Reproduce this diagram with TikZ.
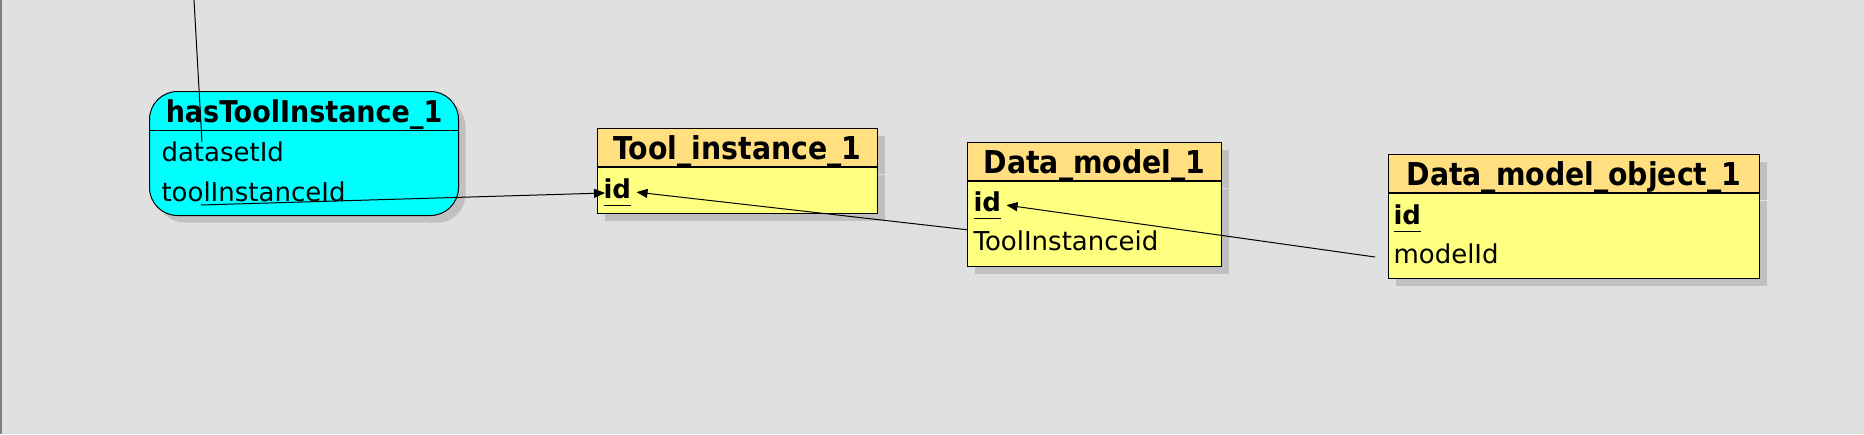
\documentclass[tikz,border=0pt]{standalone}
\usepackage{fontspec}
\setmainfont{DejaVu Sans}
\newfontfamily\condbold{DejaVuSansCondensed-Bold.ttf}
\usepackage{tikz}
\usetikzlibrary{positioning,arrows.meta,shadows}
\definecolor{bgfill}{HTML}{E0E0E0}
\definecolor{hdrfill}{HTML}{FFDF80}
\definecolor{tblfill}{HTML}{FFFF80}
\definecolor{relfill}{HTML}{00FFFF}
\definecolor{shadowgray}{HTML}{C0C0C0}
\definecolor{framegray}{HTML}{808080}
\newcommand{\pk}[1]{\setbox0\hbox{\bfseries #1}\rlap{\rule[-8pt]{\wd0}{1pt}}\box0}
\tikzset{
  boxshadow/.style={general shadow={fill=shadowgray,shadow xshift=7pt,shadow yshift=-7pt}},
  title/.style={anchor=north west,inner sep=0pt,minimum height=38pt,text height=24pt,text depth=0pt,font=\condbold\fontsize{31.5}{32}\selectfont},
  hdr/.style={title,draw,fill=hdrfill,boxshadow},
  tbl/.style={draw,fill=tblfill,inner sep=0pt,boxshadow},
  field/.style={anchor=base west,inner sep=0pt,font=\fontsize{26}{27}\selectfont},
}
\begin{document}
\begin{tikzpicture}[x=1pt,y=-1pt,line width=1pt,>={Triangle[length=11pt,width=9pt]}]
\useasboundingbox (0,0) rectangle (1864,434);
\fill[bgfill] (0,0) rectangle (1864,434);
\draw[framegray,line width=2pt] (1,0) -- (1,434);
% hasToolInstance_1
\node[draw,fill=relfill,rounded corners=28pt,anchor=north west,minimum width=309pt,minimum height=124pt,boxshadow] (hti) at (149,91) {};
\node[title,minimum width=309pt,font=\condbold\fontsize{30}{31}\selectfont] (htihdr) at (149,91) {hasToolInstance\_1};
\draw (htihdr.south west) -- (htihdr.south east);
\node[field] (dsid) at ([shift={(12pt,-31pt)}]htihdr.south west) {datasetId};
\node[field] (htitid) at ([shift={(12pt,-71pt)}]htihdr.south west) {toolInstanceId};
% Tool_instance_1
\node[hdr,minimum width=280pt] (ti) at (597,128) {Tool\_instance\_1};
\node[tbl,below=0pt of ti,minimum width=280pt,minimum height=46pt] (tibody) {};
\node[field] (tiid) at ([shift={(6pt,-31pt)}]ti.south west) {\pk{id}};
% Data_model_1
\node[hdr,minimum width=254pt] (dm) at (967,142) {Data\_model\_1};
\node[tbl,below=0pt of dm,minimum width=254pt,minimum height=85pt] (dmbody) {};
\node[field] (dmid) at ([shift={(6pt,-30pt)}]dm.south west) {\pk{id}};
\node[field] (dmtid) at ([shift={(6pt,-69pt)}]dm.south west) {ToolInstanceid};
% Data_model_object_1
\node[hdr,minimum width=371pt] (dmo) at (1388,154) {Data\_model\_object\_1};
\node[tbl,below=0pt of dmo,minimum width=371pt,minimum height=85pt] (dmobody) {};
\node[field] (dmoid) at ([shift={(5pt,-31pt)}]dmo.south west) {\pk{id}};
\node[field] (dmomid) at ([shift={(5pt,-70pt)}]dmo.south west) {modelId};
% connectors
\coordinate (wiretop) at (194,0);
\coordinate (wireend) at (202,142);
\draw (wiretop) -- (wireend);
\coordinate (htisrc) at (201,205);
\draw[->] (htisrc) -- ([shift={(2pt,5pt)}]tiid.base west);
\draw[->] (dmbody.west |- dmtid.north) -- ([xshift=5pt]tiid.east);
\coordinate (dmosrc) at (1375,257);
\draw[->] (dmosrc) -- ([xshift=5pt]dmid.east);
\end{tikzpicture}
\end{document}
